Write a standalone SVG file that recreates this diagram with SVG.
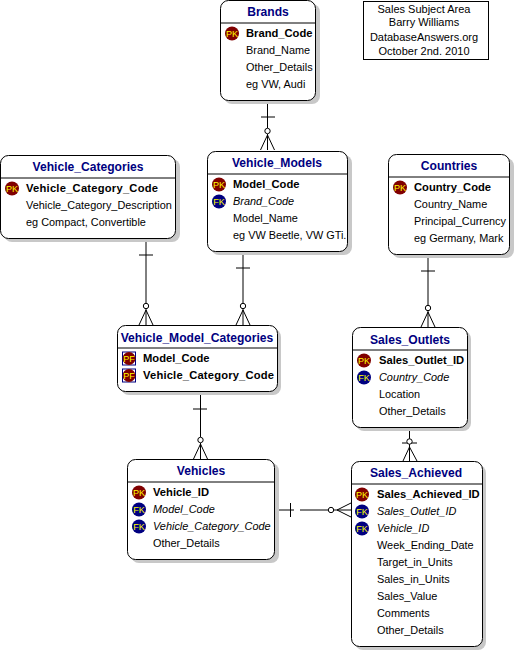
<svg xmlns="http://www.w3.org/2000/svg" width="514" height="652" viewBox="0 0 514 652">
<style>
text{font-family:"Liberation Sans",Arial,sans-serif;font-size:10.900px;fill:#000}
.t{font-size:12.100px;font-weight:bold;fill:#000080;text-anchor:middle}
.b{font-weight:bold;font-size:11.200px}
.i{font-style:italic}
.box{fill:#fff;stroke:#000;stroke-width:1}
.sh{fill:#c8c8c8}
.l{stroke:#000;stroke-width:1;fill:none}
.k{font-size:9px;fill:#ff0;text-anchor:middle;font-weight:normal}
.pk{fill:#800000}.fk{fill:#000080}
.pfb{fill:#fff;stroke:#000080}
.n{text-anchor:middle;font-size:11px}
</style>
<defs>
<g id="pk"><circle class="pk" cx="0" cy="0" r="7"/><text class="k" x="0" y="3.200">PK</text></g>
<g id="fk"><circle class="fk" cx="0" cy="0" r="7"/><text class="k" x="0" y="3.200">FK</text></g>
<g id="pf"><rect class="pfb" x="-6.500" y="-6.500" width="13" height="13"/><circle class="pk" cx="0" cy="0" r="6.500"/><text class="k" x="0" y="3.200">PF</text></g>
<g id="crow"><path class="l" d="M0,0V-16M-7,0L0,-15L7,0"/><circle cx="0" cy="-19" r="2.700" fill="#fff" stroke="#000"/></g>
</defs>
<g id="connectors">
<path class="l" d="M267.500,100V128M261,117H275"/><use href="#crow" x="267.500" y="150"/>
<path class="l" d="M146,238V303M139,255H153"/><use href="#crow" x="146" y="325"/>
<path class="l" d="M243,251V303M236,268H250"/><use href="#crow" x="243" y="325"/>
<path class="l" d="M428,254V305M421,271H435"/><use href="#crow" x="428" y="327"/>
<path class="l" d="M200.500,391V437M193,409H207"/><use href="#crow" x="200.500" y="459"/>
<path class="l" d="M409.500,427V461M402,443H417M403,461L409.500,447L417,461"/><circle cx="409.500" cy="441.500" r="2.700" fill="#fff" stroke="#000"/>
<path class="l" d="M276,510H294M290.500,503V517M300,510H328M351,503L337,510L351,517M334,510H351"/><circle cx="331" cy="510" r="2.700" fill="#fff" stroke="#000"/>
</g>
<g id="brands">
<rect class="sh" x="224" y="4" width="96" height="100" rx="8"/><rect class="box" x="220.500" y="0.500" width="95" height="100" rx="8"/>
<path class="l" d="M220.500,23H315.500"/><text class="t" x="268" y="16">Brands</text>
<use href="#pk" x="232" y="33.500"/><text class="b" x="246" y="37">Brand_Code</text><text x="246" y="54">Brand_Name</text><text x="246" y="71">Other_Details</text><text x="246" y="88">eg VW, Audi</text>
</g>
<g id="vehicle_models">
<rect class="sh" x="211" y="155" width="141" height="100" rx="8"/><rect class="box" x="207.500" y="151.500" width="140" height="100" rx="8"/>
<path class="l" d="M207.500,174H347.500"/><text class="t" x="277" y="167">Vehicle_Models</text>
<use href="#pk" x="219" y="184.500"/><text class="b" x="233" y="188">Model_Code</text>
<use href="#fk" x="219" y="201.500"/><text class="i" x="233" y="205">Brand_Code</text><text x="233" y="222">Model_Name</text><text x="233" y="239">eg VW Beetle, VW GTi.</text>
</g>
<g id="vehicle_categories">
<rect class="sh" x="4" y="159" width="176" height="83" rx="8"/><rect class="box" x="0.500" y="155.500" width="175" height="83" rx="8"/>
<path class="l" d="M0.500,178H175.500"/><text class="t" x="88" y="171">Vehicle_Categories</text>
<use href="#pk" x="12" y="188.500"/><text class="b" x="26" y="192" textLength="132">Vehicle_Category_Code</text><text x="26" y="209">Vehicle_Category_Description</text><text x="26" y="226">eg Compact, Convertible</text>
</g>
<g id="countries">
<rect class="sh" x="392" y="158" width="122" height="100" rx="8"/><rect class="box" x="388.500" y="154.500" width="121" height="100" rx="8"/>
<path class="l" d="M388.500,177H509.500"/><text class="t" x="449" y="170">Countries</text>
<use href="#pk" x="400" y="187.500"/><text class="b" x="414" y="191">Country_Code</text><text x="414" y="208">Country_Name</text><text x="414" y="225">Principal_Currency</text><text x="414" y="242">eg Germany, Mark</text>
</g>
<g id="vehicle_model_categories">
<rect class="sh" x="121" y="329" width="160" height="66" rx="8"/><rect class="box" x="117.500" y="325.500" width="160" height="66" rx="8"/>
<path class="l" d="M117.500,348H277.500"/><text class="t" x="197" y="342">Vehicle_Model_Categories</text>
<use href="#pf" x="129" y="358.500"/><text class="b" x="143" y="362">Model_Code</text>
<use href="#pf" x="129" y="375.500"/><text class="b" x="143" y="379" textLength="131">Vehicle_Category_Code</text>
</g>
<g id="sales_outlets">
<rect class="sh" x="356" y="331" width="115" height="100" rx="8"/><rect class="box" x="352.500" y="327.500" width="115" height="100" rx="8"/>
<path class="l" d="M352.500,350H467.500"/><text class="t" x="410" y="344">Sales_Outlets</text>
<use href="#pk" x="364" y="360.500"/><text class="b" x="379" y="364">Sales_Outlet_ID</text>
<use href="#fk" x="364" y="377.500"/><text class="i" x="379" y="381">Country_Code</text><text x="379" y="398">Location</text><text x="379" y="415">Other_Details</text>
</g>
<g id="vehicles">
<rect class="sh" x="131" y="463" width="148" height="100" rx="8"/><rect class="box" x="127.500" y="459.500" width="147" height="100" rx="8"/>
<path class="l" d="M127.500,482H274.500"/><text class="t" x="201" y="475">Vehicles</text>
<use href="#pk" x="139" y="492.500"/><text class="b" x="153" y="496">Vehicle_ID</text>
<use href="#fk" x="139" y="509.500"/><text class="i" x="153" y="513">Model_Code</text>
<use href="#fk" x="139" y="526.500"/><text class="i" x="153" y="530">Vehicle_Category_Code</text><text x="153" y="547">Other_Details</text>
</g>
<g id="sales_achieved">
<rect class="sh" x="355" y="465" width="131" height="185" rx="8"/><rect class="box" x="351.500" y="461.500" width="131" height="185" rx="8"/>
<path class="l" d="M351.500,484H482.500"/><text class="t" x="416" y="477">Sales_Achieved</text>
<use href="#pk" x="362" y="494.500"/><text class="b" x="377" y="498">Sales_Achieved_ID</text>
<use href="#fk" x="362" y="511.500"/><text class="i" x="377" y="515">Sales_Outlet_ID</text>
<use href="#fk" x="362" y="528.500"/><text class="i" x="377" y="532">Vehicle_ID</text>
<text x="377" y="549">Week_Ending_Date</text><text x="377" y="566">Target_in_Units</text><text x="377" y="583">Sales_in_Units</text><text x="377" y="600">Sales_Value</text><text x="377" y="617">Comments</text><text x="377" y="634">Other_Details</text>
</g>
<g id="note">
<rect x="363.500" y="1.500" width="125" height="58" fill="#fff" stroke="#000"/>
<text class="n" x="424" y="13">Sales Subject Area</text><text class="n" x="424" y="26">Barry Williams</text><text class="n" x="424" y="41">DatabaseAnswers.org</text><text class="n" x="424" y="55">October 2nd. 2010</text>
</g>
</svg>
